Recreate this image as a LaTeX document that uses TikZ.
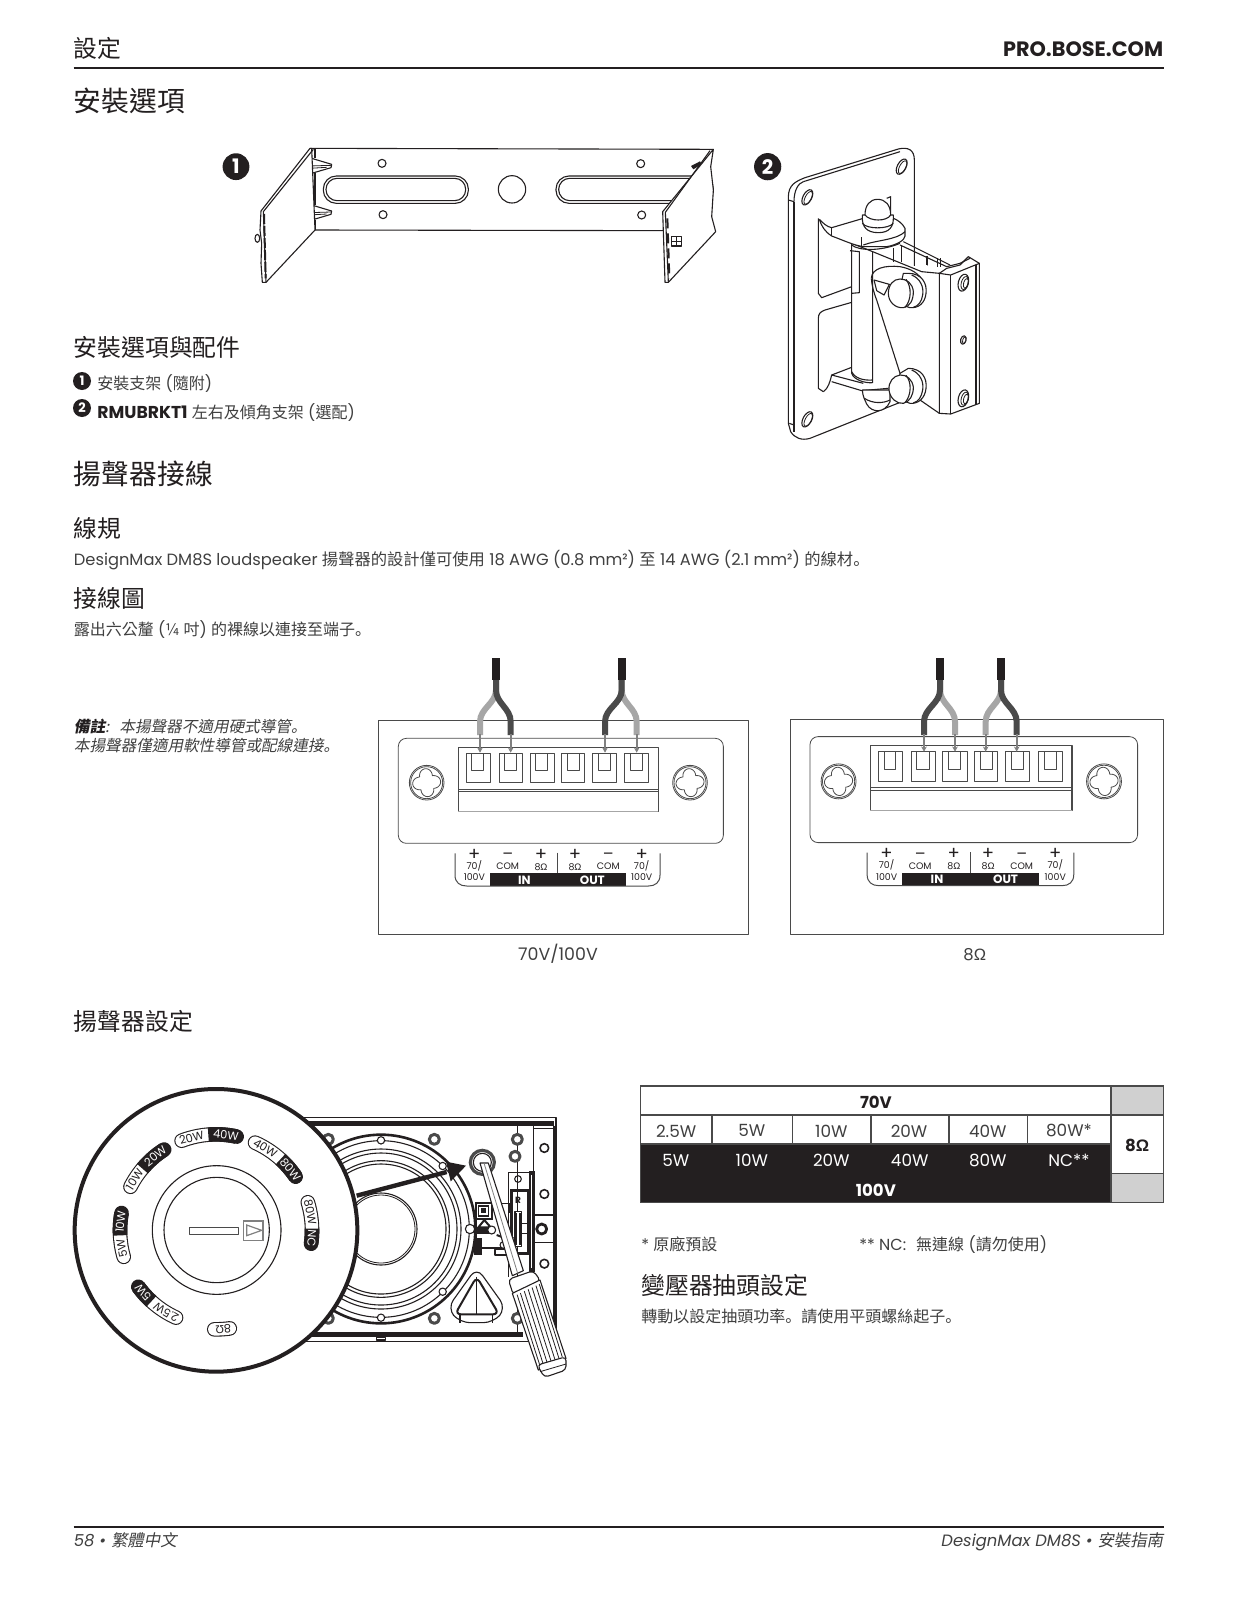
\documentclass[tikz,border=0pt]{standalone}
\usepackage{fontspec}
\usetikzlibrary{arrows.meta}
\setmainfont{Poppins}
\newfontfamily\cjk{Noto Sans CJK TC}
\newfontfamily\cjksl[FakeSlant=0.2]{Noto Sans CJK TC}
\newfontfamily\pjp{Noto Sans CJK JP}
\newfontfamily\pjpsl[FakeSlant=0.2]{Noto Sans CJK JP}
\newfontfamily\symf{Liberation Sans}
\newcommand{\C}[1]{{\cjk #1}}
\newcommand{\CS}[1]{{\cjksl #1}}
\newcommand{\dotp}{{\pjp 。}}
\newcommand{\dotps}{{\pjpsl 。}}
\newcommand{\om}{{\symf Ω}}
\definecolor{ink}{HTML}{231F20}
\definecolor{body}{HTML}{404040}
\definecolor{lw}{HTML}{A6A6A6}
\definecolor{dw}{HTML}{4A4A4A}
\definecolor{gb}{HTML}{D0D0D0}
\tikzset{
  zoomed/.style 2 args={shift={(#1,#2)},x=.16667pt,y=-.16667pt},
  pl/.style={draw=ink,line width=.55pt,line join=round},
  fp/.style={pl,fill=white},
  thn/.style={draw=ink,line width=.4pt,line join=round},
  hd/.style={anchor=base west,inner sep=0,text=ink,font=\fontsize{13.9}{16}\selectfont},
  sh/.style={anchor=base west,inner sep=0,text=ink,font=\fontsize{11.9}{14}\selectfont},
  bd/.style={anchor=base west,inner sep=0,text=body,font=\fontsize{8}{10}\selectfont},
  tc/.style={anchor=center,inner sep=0,text=body,font=\fontsize{8.4}{10}\selectfont},
  lab/.style={anchor=center,inner sep=0,text=ink,font=\fontsize{4.7}{5}\selectfont},
  labw/.style={anchor=center,inner sep=0,text=white,font=\fontsize{6}{7}\bfseries\selectfont},
  dialt/.style={anchor=center,inner sep=0,font=\fontsize{5.7}{7}\selectfont},
  badge/.style={circle,fill=ink,inner sep=0,text=white,font=\bfseries},
}
\newcommand{\panelbody}{
  \draw[thn,draw=dw,rounded corners=4pt] (115,295) rectangle (1090,610);
  \draw[pl,draw=dw,line width=.6pt] (295,322) rectangle (895,515);
  \draw[thn,draw=dw] (295,447) -- (895,447);
  \draw[thn,draw=dw] (295,455) -- (895,455);
  \draw[draw=lw,line width=.6pt] (295,515) -- (895,515);
  \foreach \a/\b/\c/\d in {318/390/335/370,418/488/433/470,510/582/527/562,604/674/622/657,696/768/715/750,794/866/812/848}{
    \draw[thn,draw=dw] (\a,340) rectangle (\b,427);
    \draw[thn,draw=dw] (\c,340) rectangle (\d,392);
  }
  \foreach \cx in {200,990}{
    \draw[thn,draw=dw] (\cx,428) circle (52);
    \draw[thn,draw=dw] (\cx,428) circle (48);
    \draw[thn,draw=dw] plot[domain=0:360,samples=145] ({\cx+(27+15*abs(cos(2*\x+12)))*cos(\x)},{428+(27+15*abs(cos(2*\x+12)))*sin(\x)}) -- cycle;
  }
  \fill[ink] (390,700) rectangle (797,738);
  \draw[thn,draw=dw,line width=.5pt] (285,640) -- (285,705) .. controls (285,728) and (300,738) .. (320,738) -- (865,738) .. controls (885,738) and (900,728) .. (900,705) -- (900,640);
  \draw[thn,draw=dw,line width=.5pt] (593,638) -- (593,700);
  \foreach \x/\s in {343/+,543/+,645/+,845/+}{\node[lab,font=\fontsize{9}{9}\selectfont] at (\x,645) {\s};}
  \foreach \x in {443,745}{\node[lab,font=\fontsize{8}{8}\selectfont] at (\x,650) {–};}
  \foreach \x in {343,845}{\node[lab] at (\x,677) {70/};\node[lab] at (\x,712) {100V};}
  \foreach \x in {443,745}{\node[lab] at (\x,680) {COM};}
  \foreach \x in {543,645}{\node[lab] at (\x,680) {8\om};}
  \node[labw] at (493,720) {IN};
  \node[labw] at (697,720) {OUT};
}
\newcommand{\wire}[4]{% colour, top x, end x, arrow tip y
  \draw[line width=3pt,#1] (#2,118) -- (#2,150) .. controls (#2,190) and (#3,205) .. (#3,245) -- (#3,285);
  \draw[line width=.9pt,draw=gray,-{Stealth[length=2.6pt,width=2.8pt]}] (#3,283) -- (#3,#4);
}
\newcommand{\sheath}[1]{\fill[ink] (#1-12,55) rectangle (#1+12,120);}
\newcommand{\pill}[5]{
  \pgfmathsetmacro{\am}{#2+(#1-#2)*0.62}\pgfmathsetmacro{\bm}{#2+(#3-#2)*0.62}
  \draw[ink,line width=7.3pt,line cap=round] plot[domain=#1:#3,samples=24] ({468+288*cos(\x)},{541-288*sin(\x)});
  \draw[white,line width=6.2pt,line cap=round] plot[domain=#1:#2,samples=16] ({468+288*cos(\x)},{541-288*sin(\x)});
  \draw[ink,line width=7.3pt,line cap=butt] plot[domain=#2:#3,samples=12] ({468+288*cos(\x)},{541-288*sin(\x)});
  \node[dialt,text=ink,rotate=\am-90] at ({468+288*cos(\am)},{541-288*sin(\am)}) {#4};
  \node[dialt,text=white,rotate=\bm-90] at ({468+288*cos(\bm)},{541-288*sin(\bm)}) {#5};
}
\begin{document}
\begin{tikzpicture}[x=.5pt,y=-.5pt]
\useasboundingbox (0,0) rectangle (1237,1600);
\fill[white] (0,0) rectangle (1237,1600);
% ---- header
\node[sh] (h1) at (73.5,58) {\C{設定}};
\node[anchor=base east,inner sep=0,text=ink,font=\fontsize{10.4}{12}\bfseries\selectfont] (h2) at (1163.5,56.5) {PRO.BOSE.COM};
\draw[ink,line width=1pt] (73.5,68.4) -- (1163.5,68.4);
\node[hd] (t1) at (73.5,111.5) {\C{安裝選項}};
% ---- bracket 1
\begin{scope}[zoomed={200}{130}]
\node[badge,minimum size=13.4pt,font=\fontsize{10}{10}\bfseries\selectfont] (b1) at (108,110) {1};
\draw[pl] (330,55) -- (1540,58);
\draw[pl] (345,300) -- (1400,302);
\draw[pl] (335,55) -- (335,300);
\draw[pl] (345,55) -- (345,85) (345,130) -- (345,225) (345,270) -- (345,300);
\foreach \x/\y in {546/100,549/254,1322/101,1325/255}{\draw[pl] (\x,\y) circle (12);}
\draw[pl] (936,178) circle (41);
\draw[pl,rounded corners=6.5pt] (370,138) rectangle (805,220);
\draw[pl,rounded corners=5.5pt] (378,145) rectangle (797,212);
\draw[pl,rounded corners=6.5pt] (1068,138) rectangle (1540,220);
\draw[pl,rounded corners=5.5pt] (1076,145) rectangle (1535,212);
\foreach \d in {0,140}{
  \draw[fp] (335,{85+\d}) -- (395,{103+\d}) -- (393,{113+\d}) -- (335,{130+\d}) -- (325,{122+\d}) -- (325,{95+\d}) -- cycle;
  \draw[thn] (328,{108+\d}) -- (393,{106+\d}) (328,{115+\d}) -- (380,{112+\d});
}
\fill[ink] (1473,108) -- (1500,94) -- (1505,103) -- (1480,118) -- cycle;
% left wing
\draw[fp] (330,55) -- (183,243) -- (180,300) -- (185,340) -- (183,400) -- (187,457) -- (198,457) -- (345,300) -- (335,55) -- cycle;
\draw[pl] (340,58) -- (190,245) -- (198,457);
\draw[ink,line width=1pt,dash pattern=on 5pt off 1pt] (192,252) -- (197,445);
\draw[fp] (172,325) circle (7 and 12);
% right wing
\draw[fp] (1540,58) -- (1388,245) -- (1395,457) -- (1405,457) -- (1547,305) -- (1535,260) -- (1540,180) -- (1532,110) -- cycle;
\draw[pl] (1530,62) -- (1396,247) -- (1405,457);
\draw[ink,line width=1pt,dash pattern=on 5pt off 2.5pt] (1402,265) -- (1408,445);
\draw[pl] (1415,320) rectangle (1445,348);
\draw[pl] (1430,320) -- (1430,348);
\draw[pl] (1415,335) -- (1445,335);
\end{scope}
% ---- bracket 2
\begin{scope}[zoomed={730}{130}]
\node[badge,minimum size=13.6pt,font=\fontsize{10}{10}\bfseries\selectfont] (b2) at (113,110) {2};
\draw[fp] (175,200) .. controls (176,165) and (195,155) .. (225,143) -- (505,57) .. controls (535,50) and (553,60) .. (553,90) -- (553,800) -- (240,925) .. controls (215,932) and (195,925) .. (182,905) -- (175,880) -- cycle;
\draw[pl] (192,215) -- (192,905);
\draw[pl] (175,210) -- (192,215);
\draw[pl] (178,880) -- (192,885);
\draw[pl] (220,155) .. controls (205,160) and (192,180) .. (192,215);
\draw[pl] (220,155) -- (510,65);
\foreach \x/\y in {232/202,515/110,232/868}{
  \draw[pl,rotate around={-28:(\x,\y)}] (\x,\y) ellipse (13 and 25);
  \draw[thn,rotate around={-28:(\x,\y)}] ({\x+3},\y) ellipse (9 and 21);
}
% arm slots
\draw[pl] (265,265) -- (265,490) -- (275,503) -- (365,470);
\draw[pl] (365,517) -- (285,540) .. controls (272,545) and (265,550) .. (265,565) -- (265,775) -- (280,785);
% rack behind
\draw[pl] (510,345) -- (650,410) -- (690,400) -- (720,385);
\draw[pl] (520,335) -- (660,405);
\draw[pl] (490,355) -- (490,395) (515,345) -- (515,395);
\draw[ink,line width=1pt] (590,378) -- (590,420);
\draw[pl] (622,385) -- (622,410) (632,385) -- (632,410);
\draw[pl] (470,205) -- (482,200) -- (482,245);
% block
\fill[white] (428,420) -- (590,405) -- (630,430) -- (630,850) -- (530,795) -- (480,770) -- cycle;
\draw[pl] (428,365) -- (575,425) -- (628,430);
\draw[fp] (628,430) -- (662,435) -- (748,400) -- (748,820) -- (662,852) -- (628,850) -- cycle;
\draw[pl] (662,435) -- (662,852);
\draw[pl] (738,405) -- (738,824);
\draw[pl] (628,430) -- (650,415) -- (690,405) -- (715,380) -- (748,400);
\draw[pl] (570,810) -- (628,850);
\foreach \x/\y in {700/458,700/805}{
  \draw[pl,rotate around={-15:(\x,\y)}] (\x,\y) ellipse (15 and 26);
  \draw[thn,rotate around={-15:(\x,\y)}] ({\x+4},\y) ellipse (10 and 20);
  \draw[thn,rotate around={-15:(\x,\y)}] ({\x+8},\y) ellipse (7 and 15);
}
\draw[pl,rotate around={-15:(700,630)}] (700,630) ellipse (8 and 13);
\draw[thn,rotate around={-15:(700,630)}] (703,630) ellipse (5 and 10);
% hinge cylinder
\draw[fp] (365,340) -- (365,730) .. controls (372,750) and (405,760) .. (428,758) -- (428,365) -- cycle;
\draw[pl] (360,362) -- (388,365) -- (388,488) -- (365,490);
\draw[pl] (365,725) .. controls (375,745) and (400,752) .. (428,750);
\draw[pl] (365,345) .. controls (385,362) and (450,365) .. (510,340);
% bottom arm + lower dome
\draw[fp] (280,785) .. controls (295,775) and (300,755) .. (305,735) -- (400,760);
\draw[pl] (305,735) -- (365,712);
\draw[pl] (305,755) -- (395,782) -- (475,775);
\draw[fp] (397,780) .. controls (398,800) and (405,810) .. (410,822) .. controls (425,850) and (465,850) .. (480,815) -- (480,780) -- cycle;
\draw[pl] (403,805) .. controls (430,822) and (460,820) .. (480,810);
% top arm
\draw[fp] (268,268) .. controls (275,290) and (285,305) .. (305,318) .. controls (350,335) and (370,345) .. (400,350) -- (470,350) .. controls (500,345) and (525,330) .. (525,318) -- (525,295) .. controls (518,280) and (500,268) .. (490,265) -- (400,265) -- (305,293) .. controls (290,290) and (280,280) .. (268,268);
\draw[pl] (305,293) -- (305,318);
\draw[pl] (395,322) -- (395,350);
\draw[pl] (400,345) .. controls (440,330) and (500,330) .. (525,305);
% top dome
\draw[fp] (397,265) .. controls (397,290) and (410,308) .. (445,308) .. controls (478,308) and (490,290) .. (490,265) -- (490,255) -- (397,255) -- cycle;
\draw[fp] (405,255) .. controls (405,225) and (420,208) .. (443,208) .. controls (466,208) and (482,225) .. (482,255) .. controls (470,275) and (420,275) .. (405,255);
\draw[pl] (397,280) .. controls (410,298) and (475,298) .. (490,280);
% side plate arc + tilted line
\draw[pl] (440,482) -- (432,450) -- (478,463) -- (462,495) -- (440,482);
\draw[pl] (424,445) .. controls (425,415) and (465,405) .. (510,410) .. controls (540,415) and (570,430) .. (582,460);
\draw[pl] (424,445) .. controls (425,465) and (432,490) .. (440,510) -- (510,730);
% upper bolt
\draw[fp] (535,430) .. controls (575,430) and (592,460) .. (588,490) .. controls (585,520) and (565,535) .. (540,533) -- (500,520) -- (520,430) -- cycle;
\draw[pl] (545,435) .. controls (570,445) and (582,470) .. (578,495) .. controls (575,515) and (565,528) .. (550,532);
\draw[fp] (510,447) .. controls (490,447) and (475,465) .. (475,490) .. controls (475,515) and (495,535) .. (520,533) .. controls (540,530) and (550,510) .. (550,485) .. controls (548,460) and (530,447) .. (510,447);
\draw[pl] (528,448) .. controls (545,470) and (545,510) .. (525,532);
% lower bolt
\draw[fp] (535,715) .. controls (575,715) and (592,745) .. (588,775) .. controls (585,805) and (565,822) .. (540,820) -- (500,805) -- (510,730) -- cycle;
\draw[pl] (545,720) .. controls (570,730) and (582,755) .. (578,780) .. controls (575,800) and (565,815) .. (550,819);
\draw[fp] (510,735) .. controls (490,738) and (475,755) .. (477,780) .. controls (480,805) and (500,822) .. (520,820) .. controls (540,815) and (550,795) .. (550,772) .. controls (548,750) and (530,733) .. (510,735);
\draw[pl] (528,736) .. controls (545,755) and (545,795) .. (525,818);
\end{scope}
% ---- options list
\node[sh] (t2) at (73.5,356) {\C{安裝選項與配件}};
\node[badge,minimum size=9pt,font=\fontsize{6.5}{7}\bfseries\selectfont] (i1) at (82,381) {1};
\node[bd] (i1t) at (97,389) {\C{安裝支架} (\C{隨附})};
\node[badge,minimum size=9pt,font=\fontsize{6.5}{7}\bfseries\selectfont] (i2) at (82,408) {2};
\node[bd] (i2t) at (97,418) {\textcolor{ink}{\fontsize{8.6}{10}\bfseries\selectfont RMUBRKT1} \C{左右及傾角支架} (\C{選配})};
% ---- wiring text
\node[hd] (t3) at (73.5,484.5) {\C{揚聲器接線}};
\node[sh] (t4) at (73.5,537) {\C{線規}};
\node[bd,font=\fontsize{8.15}{10}\selectfont] (p1) at (73.5,565) {DesignMax DM8S loudspeaker \C{揚聲器的設計僅可使用} 18 AWG (0.8 mm²) \C{至} 14 AWG (2.1 mm²) \C{的線材}\dotp};
\node[sh] (t5) at (73.5,607) {\C{接線圖}};
\node[bd] (p2) at (73.5,635) {\C{露出六公釐} (\C{¼} \C{吋}) \C{的裸線以連接至端子}\dotp};
\node[bd,font=\fontsize{7.8}{10}\selectfont] (n1) at (73.5,732) {{\cjksl\bfseries\textcolor{ink}{備註}}{\cjksl :}\hspace{5pt}\CS{本揚聲器不適用硬式導管}\dotps};
\node[bd,font=\fontsize{7.8}{10}\selectfont] (n2) at (73.5,751) {\CS{本揚聲器僅適用軟性導管或配線連接}\dotps};
% ---- wiring panels
\draw[thn,draw=dw] (378.3,720.7) rectangle (748,934);
\draw[thn,draw=dw] (790,719.3) rectangle (1163.5,934);
\begin{scope}[zoomed={360}{640}]
\panelbody
\wire{lw}{408}{360}{338}
\wire{dw}{408}{452}{338}
\wire{lw}{785}{830}{338}
\wire{dw}{785}{735}{338}
\sheath{408}\sheath{785}
\end{scope}
\begin{scope}[shift={(771.36,637.4)},x=.168pt,y=-.1682pt]
\panelbody
\end{scope}
\begin{scope}[zoomed={770}{640}]
\wire{lw}{510}{555}{335}
\wire{dw}{510}{462}{335}
\wire{lw}{693}{647}{335}
\wire{dw}{693}{740}{335}
\sheath{510}\sheath{693}
\end{scope}
\node[anchor=base,inner sep=0,text=body,font=\fontsize{8.7}{10}\selectfont] (c1) at (558,960) {70V/100V};
\node[anchor=base,inner sep=0,text=body,font=\fontsize{8.2}{10}\selectfont] (c2) at (974.7,960) {8\om};
\node[sh] (t6) at (73.5,1030.6) {\C{揚聲器設定}};
% ---- speaker
\begin{scope}[zoomed={300}{1080}]
\draw[pl] (0,113) -- (768,113) -- (768,785) -- (0,785);
\fill[ink] (0,122) rectangle (762,137);
\fill[ink] (0,757) rectangle (670,772);
\draw[ink,line width=1.2pt] (762,137) -- (762,757);
\draw[pl] (700,137) -- (700,757);
\draw[pl] (652,137) -- (652,757);
\draw[pl] (700,145) -- (765,145);
\draw[pl] (700,405) -- (765,405) (700,487) -- (765,487);
\draw[pl] (230,772) rectangle (256,780);
\foreach \x/\y in {733/204,733/342,733/551}{\draw[fp,line width=.8pt] (\x,\y) circle (13);}
\draw[fp,line width=1.4pt] (725,447) circle (15);
\foreach \x/\y in {403/178,652/178,645/229,403/715,652/715,85/178,85/715}{\draw[fp,draw=dw,line width=1.5pt] (\x,\y) circle (15);}
\draw[ink,line width=1.3pt] (243,447) circle (283);
\draw[pl] (243,447) circle (265);
\draw[pl] (243,447) circle (240);
\draw[pl] (243,447) circle (228);
\draw[pl] (243,447) circle (205);
\draw[pl] (243,447) circle (195);
\draw[pl] (243,447) circle (108);
\draw[thn] (243,447) circle (102);
\foreach \x/\y in {243/181,243/713,428/258,428/635}{\draw[fp] (\x,\y) circle (11);}
% triangle port
\draw[pl,rounded corners=5pt] (530,562) -- (442,685) -- (480,728) -- (580,728) -- (618,685) -- cycle;
\draw[ink,line width=1pt,rounded corners=3pt] (530,590) -- (465,703) -- (597,703) -- cycle;
\draw[pl] (530,590) -- (530,703) (480,703) -- (480,728) (578,703) -- (578,728);
% target hole
\draw[draw=dw,line width=1.6pt,fill=white] (547,247) circle (36);
\draw[pl] (547,247) circle (27);
% terminal board
\draw[ink,line width=.8pt] (625,278) -- (625,590) (625,278) -- (700,278);
\fill[ink] (688,272) rectangle (705,575);
\fill[white] (692,285) rectangle (697,565);
\draw[pl] (654,297) circle (10);
\draw[ink,line width=1.2pt] (635,332) rectangle (685,520);
\node[inner sep=0,text=ink,font=\fontsize{4.5}{5}\bfseries\selectfont] (rmark) at (654,360) {R};
\draw[fp] (645,395) rectangle (665,500);
\draw[pl] (650,400) -- (650,495) (660,400) -- (660,495);
\draw[pl] (665,430) rectangle (685,460);
% electronics
\draw[ink,line width=.9pt] (527,370) rectangle (577,418);
\draw[ink,line width=.8pt] (535,378) rectangle (565,408);
\fill[ink] (542,385) rectangle (558,400);
\draw[pl] (577,370) -- (630,370) -- (630,400);
\draw[ink,line width=1pt] (535,442) -- (553,420) -- (572,442) -- cycle;
\draw[fp] (510,447) circle (14);
\draw[ink,line width=1.4pt] (527,420) -- (527,525);
\fill[ink] (527,445) rectangle (575,462);
\fill[ink] (530,475) rectangle (545,525);
\fill[ink] (545,500) rectangle (625,508);
\draw[fp] (575,450) circle (12);
\draw[fp] (610,495) circle (10);
\draw[pl] (585,508) rectangle (640,525);
\draw[ink,line width=1pt] (590,465) -- (630,480) (600,450) -- (640,475);
\end{scope}
% ---- screwdriver
\begin{scope}[zoomed={480}{1180}]
\draw[fp] (25,-51) -- (130,272) -- (97,287) -- (0,-51) -- cycle;
\draw[thn,draw=gray] (12,-51) -- (113,280);
\draw[fp,rounded corners=2pt] (85,298) -- (160,272) -- (182,303) -- (100,345) -- cycle;
\draw[fp] (97,340) -- (180,300) -- (258,535) -- (175,570) -- cycle;
\foreach \f in {.1,.22,.36,.5,.64,.78,.9}{
  \draw[thn] ({97+83*\f+6},{340-40*\f+8}) -- ({175+83*\f-3},{570-35*\f-8});
}
\draw[fp,rounded corners=2pt] (172,555) -- (258,530) -- (258,570) -- (193,592) -- cycle;
\draw[thn] (180,575) -- (258,552);
\end{scope}
% ---- dial
\begin{scope}[zoomed={60}{1050}]
\draw[ink,line width=2pt,fill=white] (468,541) circle (424);
\draw[pl] (470,540) circle (193);
\draw[pl] (470,540) circle (158);
\draw[pl,draw=dw] (388,533) rectangle (536,553);
\draw[draw=gray,line width=.7pt] (551,513) rectangle (609,571);
\draw[draw=gray,line width=.6pt] (560,525) -- (605,541) -- (560,557) -- cycle;
\pill{111}{94.6}{77.6}{20W}{40W}
\pill{66}{47.8}{34}{40W}{80W}
\pill{17}{1}{-8}{80W}{NC}
\pill{153}{140}{122.7}{10W}{20W}
\pill{196}{183}{169.6}{5W}{10W}
\pill{245.4}{227.7}{216}{2.5W}{5W}
\draw[ink,line width=7.3pt,line cap=round] plot[domain=269:278,samples=8] ({468+297*cos(\x)},{541-297*sin(\x)});
\draw[white,line width=6.2pt,line cap=round] plot[domain=269:278,samples=8] ({468+297*cos(\x)},{541-297*sin(\x)});
\node[dialt,text=ink,rotate=183] (d8) at (490,838) {8\om};
\end{scope}
% ---- arrow
\begin{scope}[zoomed={300}{1080}]
\coordinate (arrS) at (170,347);
\coordinate (arrE) at (498,257);
\draw[ink,line width=2.2pt] (arrS) -- (440,276);
\fill[ink] (arrE) -- (438,245) -- (452,304) -- cycle;
\end{scope}
% ---- table
\begin{scope}[shift={(620,1055.4)},x=.16903pt,y=-.1662pt]
\fill[gb] (1452,92) rectangle (1608,180);
\fill[gb] (1452,355) rectangle (1608,443);
\fill[ink] (60,267) rectangle (1452,443);
\draw[draw=dw,line width=.75pt] (60,92) rectangle (1608,443);
\draw[draw=dw,line width=.75pt] (60,180) -- (1608,180);
\draw[draw=dw,line width=.75pt] (60,267) -- (1452,267);
\draw[draw=dw,line width=.75pt] (1452,355) -- (1608,355);
\draw[draw=dw,line width=.75pt] (1452,92) -- (1452,443);
\foreach \x in {272,510,742,973,1205}{\draw[draw=dw,line width=.75pt] (\x,180) -- (\x,267);}
\node[tc,text=ink,font=\fontsize{8.3}{10}\bfseries\selectfont] (v70) at (757,140) {70V};
\foreach \x/\s in {166/2.5W,390/5W,625/10W,855/20W,1088/40W,1328/80W*}{\node[tc] at (\x,227) {\s};}
\foreach \x/\s in {165/5W,390/10W,625/20W,857/40W,1088/80W,1328/NC**}{\node[tc,text=white] at (\x,315) {\s};}
\node[tc,text=white,font=\fontsize{8.3}{10}\bfseries\selectfont] (v100) at (757,405) {100V};
\node[tc,text=ink,font=\fontsize{8.3}{10}\bfseries\selectfont] (v8) at (1530,270) {8\om};
\end{scope}
\node[bd] (f1) at (641,1250) {* \C{原廠預設}};
\node[bd] (f2) at (859,1250) {** NC:\hspace{5pt}\C{無連線} (\C{請勿使用})};
\node[sh] (t7) at (641,1294) {\C{變壓器抽頭設定}};
\node[bd] (p3) at (641,1322.6) {\C{轉動以設定抽頭功率}\dotp\C{請使用平頭螺絲起子}\dotp};
% ---- footer
\draw[ink,line width=1pt] (73.5,1526.8) -- (1163.5,1526.8);
\node[bd,font=\fontsize{8.2}{10}\selectfont] (fl) at (73.5,1546) {\itshape 58 • \CS{繁體中文}};
\node[bd,font=\fontsize{8.2}{10}\selectfont,anchor=base east] (fr) at (1163.5,1546) {\itshape DesignMax DM8S • \CS{安裝指南}};
\end{tikzpicture}
\end{document}
